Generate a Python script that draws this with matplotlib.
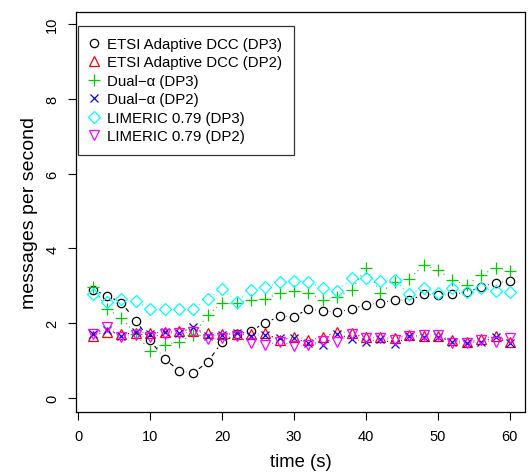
import numpy as np
import matplotlib.pyplot as plt
from matplotlib.collections import LineCollection

plt.rcParams['font.family'] = ['Liberation Sans', 'DejaVu Sans']

t = np.arange(2, 61, 2)

etsi_dp3 = [2.90, 2.74, 2.55, 2.07, 1.54, 1.05, 0.73, 0.67, 0.97, 1.50,
            1.70, 1.80, 2.01, 2.19, 2.18, 2.38, 2.33, 2.30, 2.38, 2.50,
            2.54, 2.63, 2.61, 2.77, 2.75, 2.77, 2.83, 2.98, 3.08, 3.13]
etsi_dp2 = [1.67, 1.78, 1.70, 1.74, 1.74, 1.76, 1.80, 1.80, 1.73, 1.72,
            1.70, 1.72, 1.73, 1.54, 1.64, 1.56, 1.62, 1.78, 1.74, 1.62,
            1.63, 1.60, 1.69, 1.67, 1.65, 1.56, 1.49, 1.58, 1.67, 1.49]
dual_dp3 = [2.98, 2.39, 2.14, 1.70, 1.27, 1.42, 1.51, 1.69, 2.21, 2.55,
            2.55, 2.63, 2.65, 2.81, 2.86, 2.81, 2.63, 2.70, 2.90, 3.47,
            2.82, 3.10, 3.19, 3.55, 3.43, 3.15, 3.03, 3.28, 3.49, 3.40]
dual_dp2 = [1.72, 1.83, 1.67, 1.78, 1.72, 1.78, 1.74, 1.90, 1.67, 1.69,
            1.74, 1.67, 1.69, 1.60, 1.60, 1.47, 1.42, 1.72, 1.58, 1.51,
            1.58, 1.45, 1.65, 1.63, 1.63, 1.51, 1.47, 1.51, 1.62, 1.47]
lim_dp3 = [2.79, 2.56, 2.64, 2.59, 2.37, 2.39, 2.39, 2.39, 2.65, 2.92,
           2.58, 2.90, 2.96, 3.10, 3.14, 3.10, 2.95, 2.86, 3.21, 3.21,
           3.14, 3.15, 2.78, 2.95, 2.81, 2.93, 2.83, 2.95, 2.85, 2.83]
lim_dp2 = [1.72, 1.90, 1.64, 1.69, 1.62, 1.72, 1.74, 1.76, 1.57, 1.61,
           1.65, 1.47, 1.42, 1.51, 1.40, 1.42, 1.53, 1.51, 1.71, 1.61,
           1.60, 1.56, 1.65, 1.69, 1.69, 1.48, 1.47, 1.54, 1.49, 1.60]

labels = ['ETSI Adaptive DCC (DP3)', 'ETSI Adaptive DCC (DP2)',
          'Dual\u2212\u03b1 (DP3)', 'Dual\u2212\u03b1 (DP2)',
          'LIMERIC 0.79 (DP3)', 'LIMERIC 0.79 (DP2)']
series = [etsi_dp3, etsi_dp2, dual_dp3, dual_dp2, lim_dp3, lim_dp2]
colors = ['black', '#FF0000', '#00CD00', '#0000FF', '#00FFFF', '#FF00FF']
markers = ['o', '^', '+', 'x', 'D', 'v']
msizes = [6, 7, 8.5, 6, 5.8, 7]
dashes = [(4, 4), (1, 3), (1, 3), (1, 3), (1, 3, 4, 3), (1, 3)]

fig = plt.figure(figsize=(5.28, 4.77), dpi=100)
ax = fig.add_axes([76/528, 1 - 413.3/477, 449/528, 400.6/477])
ax.set_xlim(-0.32, 62.1)
ax.set_ylim(-0.38, 10.33)

# R type="b": segments stop short of each point
gap = 7.0
inv = ax.transData.inverted()
handles = []
for y, c, m, ms, d in zip(series, colors, markers, msizes, dashes):
    pts = ax.transData.transform(np.column_stack([t, y]))
    segs = []
    for p0, p1 in zip(pts[:-1], pts[1:]):
        v = p1 - p0
        dist = np.hypot(*v)
        if dist > 2 * gap:
            u = v / dist
            segs.append(inv.transform([p0 + u * gap, p1 - u * gap]))
    ax.add_collection(LineCollection(segs, colors=c, linewidths=0.8,
                                     linestyles=[(0, d)]))
    h, = ax.plot(t, y, ls='none', marker=m, ms=ms, mfc='none', mec=c, mew=0.9)
    handles.append(h)

ax.set_xticks(range(0, 61, 10))
ax.set_yticks(range(0, 11, 2))
ax.tick_params(direction='out', length=6, width=0.8, labelsize=10.5, pad=6)
for lab in ax.get_yticklabels():
    lab.set_rotation(90)
    lab.set_va('center')
for s in ax.spines.values():
    s.set_linewidth(0.9)

ax.set_xlabel('time (s)', fontsize=13.3, labelpad=7)
ax.set_ylabel('messages per second', fontsize=14, labelpad=5)

leg = ax.legend(handles, labels, loc='upper left', bbox_to_anchor=(0.005, 0.965),
                borderaxespad=0, fontsize=10.8, frameon=True, fancybox=False,
                edgecolor='black', borderpad=0.75, handlelength=0.6,
                handletextpad=0.6, labelspacing=0.3)
leg.get_frame().set_linewidth(0.9)

fig.savefig('out.png', dpi=100)
